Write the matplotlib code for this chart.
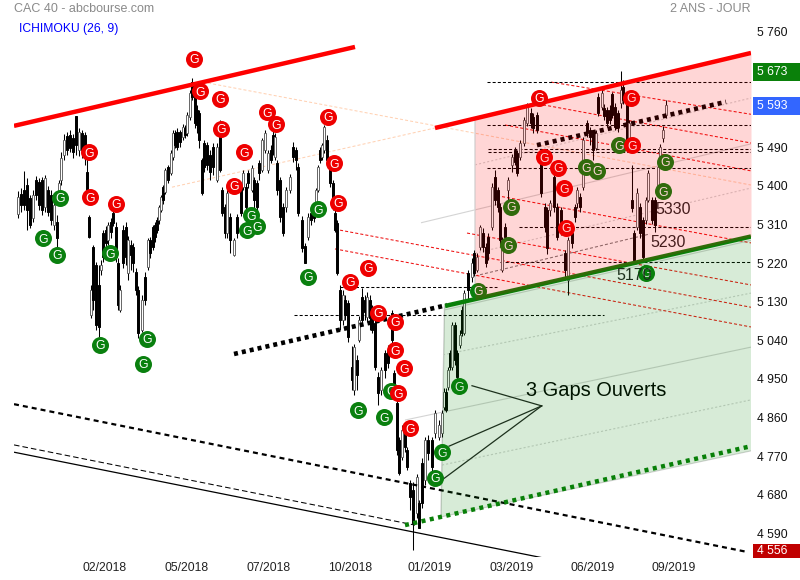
import numpy as np
import matplotlib
matplotlib.use("Agg")
import matplotlib.pyplot as plt
from matplotlib.patches import Rectangle

plt.rcParams["font.family"] = ["Liberation Sans", "DejaVu Sans"]
plt.rcParams["lines.scale_dashes"] = False

# time axis position of each candle (one candle every few sessions) and prices
candle_x = [18,21,24,27,30,33,36,39,42,45,48,51,
            54,57,59,61,64,67,70,73,76,79,82,85,
            87,89,91,93,96,99,101,103,106,108,111,113,
            116,118,120,123,126,128,131,133,136,138,142,145,
            148,150,153,155,157,159,161,163,165,168,171,173,
            175,177,180,183,185,187,190,192,195,197,199,202,
            204,207,210,213,217,220,222,225,227,230,234,237,
            241,243,246,248,252,254,257,259,262,265,268,271,
            273,275,277,280,283,286,290,293,296,298,302,305,
            308,311,314,316,318,320,322,324,327,330,333,335,
            337,340,343,345,348,352,354,357,359,362,365,367,
            370,372,375,378,381,385,388,392,394,397,399,402,
            405,407,410,413,417,419,422,425,428,432,435,439,
            442,444,446,448,450,452,455,457,460,462,464,468,
            472,474,477,480,483,486,488,492,495,498,500,502,
            505,508,512,515,517,520,524,527,531,533,537,541,
            545,547,550,554,557,561,565,568,572,575,577,580,
            583,587,590,593,596,598,602,604,607,610,612,615,
            618,621,623,627,629,632,634,637,640,643,646,648,
            652,655,658,660,663,666]
opens = [5334,5381,5390,5402,5372,5325,5414,5409,5414,5351,5390,5379,
         5309,5316,5374,5414,5472,5516,5519,5512,5563,5484,5523,5519,
         5432,5327,5099,5257,5216,5169,5204,5290,5297,5274,5316,5337,
         5304,5220,5111,5297,5304,5197,5262,5257,5199,5157,5064,5188,
         5211,5274,5304,5309,5320,5320,5344,5397,5386,5444,5430,5467,
         5523,5526,5526,5514,5535,5523,5561,5642,5607,5577,5570,5460,
         5500,5495,5472,5491,5414,5530,5390,5351,5290,5327,5239,5327,
         5397,5397,5397,5430,5390,5414,5407,5453,5437,5484,5437,5484,
         5519,5467,5453,5414,5351,5351,5390,5491,5484,5444,5320,5260,
         5281,5337,5339,5351,5390,5484,5467,5484,5507,5453,5407,5337,
         5313,5157,5087,5134,5127,4978,4924,4994,5041,5141,5134,5094,
         5134,5111,5080,4954,4924,5010,5017,5104,4964,4894,4807,4768,
         4824,4784,4707,4691,4637,4660,4754,4714,4807,4807,4824,4814,
         4824,4884,4919,4931,5010,4978,5076,5010,5029,5111,5057,5197,
         5188,5243,5204,5257,5290,5257,5281,5304,5421,5390,5351,5204,
         5304,5390,5449,5484,5477,5467,5500,5547,5570,5561,5565,5453,
         5351,5344,5344,5421,5351,5344,5243,5181,5290,5351,5360,5374,
         5397,5547,5530,5523,5488,5607,5584,5582,5577,5577,5614,5584,
         5570,5593,5631,5600,5500,5367,5290,5304,5351,5320,5320,5367,
         5367,5367,5390,5453,5512,5565]
closes = [5374,5355,5355,5344,5309,5379,5379,5355,5344,5418,5339,5320,
          5355,5278,5407,5465,5507,5484,5488,5479,5495,5526,5484,5472,
          5390,5281,5157,5134,5076,5071,5216,5234,5267,5309,5292,5313,
          5234,5122,5157,5220,5234,5274,5239,5220,5157,5057,5134,5134,
          5274,5243,5257,5281,5297,5351,5374,5367,5437,5414,5477,5523,
          5495,5491,5502,5537,5519,5565,5617,5607,5547,5542,5507,5383,
          5444,5449,5432,5444,5491,5437,5337,5290,5383,5274,5274,5290,
          5337,5430,5351,5407,5442,5367,5351,5430,5507,5523,5477,5460,
          5477,5514,5390,5327,5290,5390,5421,5467,5460,5337,5255,5220,
          5327,5320,5325,5390,5444,5460,5495,5537,5460,5407,5351,5297,
          5197,5087,5146,5099,5048,4947,5024,4959,5087,5087,5106,5141,
          5092,5064,4978,4917,4971,4971,4987,5041,4931,4784,4730,4831,
          4791,4744,4674,4614,4721,4602,4660,4807,4777,4744,4870,4842,
          4870,4919,4877,4971,4978,5076,4994,4954,5052,5057,5150,5157,
          5220,5197,5234,5304,5257,5220,5243,5397,5367,5351,5274,5274,
          5281,5414,5467,5456,5430,5500,5554,5584,5547,5535,5530,5383,
          5304,5255,5360,5351,5281,5297,5204,5274,5267,5327,5390,5351,
          5507,5523,5514,5484,5523,5570,5617,5563,5547,5554,5565,5537,
          5537,5624,5600,5491,5547,5348,5227,5383,5290,5234,5367,5430,
          5320,5309,5444,5491,5530,5589]
highs = [5388,5395,5435,5418,5379,5390,5423,5418,5421,5425,5400,5390,
         5367,5332,5414,5479,5521,5526,5530,5521,5563,5535,5530,5526,
         5484,5332,5169,5262,5223,5216,5227,5297,5306,5316,5325,5355,
         5316,5232,5169,5309,5316,5283,5274,5267,5208,5167,5146,5199,
         5278,5281,5309,5316,5327,5355,5379,5402,5442,5449,5484,5530,
         5530,5535,5530,5544,5542,5572,5624,5652,5617,5589,5577,5465,
         5507,5502,5484,5500,5500,5554,5397,5358,5390,5337,5278,5334,
         5404,5437,5407,5437,5449,5421,5414,5460,5512,5530,5484,5495,
         5530,5523,5460,5421,5360,5397,5428,5502,5491,5453,5330,5267,
         5337,5344,5344,5395,5449,5491,5500,5542,5519,5460,5414,5344,
         5320,5169,5157,5146,5134,5026,5031,5006,5097,5162,5146,5153,
         5146,5122,5092,4966,4978,5017,5029,5111,4971,4901,4814,4842,
         4831,4791,4714,4709,4728,4667,4765,4814,4819,4814,4877,4854,
         4877,4929,4929,4978,5017,5083,5083,5017,5064,5120,5157,5204,
         5232,5250,5243,5309,5302,5267,5290,5407,5437,5397,5360,5281,
         5313,5421,5474,5491,5484,5507,5561,5594,5582,5570,5572,5467,
         5360,5351,5367,5437,5360,5351,5250,5281,5297,5358,5397,5383,
         5514,5554,5537,5530,5530,5617,5624,5591,5584,5589,5619,5594,
         5577,5668,5647,5607,5554,5449,5297,5395,5360,5327,5374,5437,
         5374,5374,5453,5498,5540,5600]
lows = [5325,5339,5344,5297,5302,5316,5367,5344,5332,5339,5330,5309,
        5297,5250,5355,5402,5460,5472,5479,5465,5472,5470,5465,5449,
        5386,5278,5092,5111,5064,5048,5192,5223,5250,5262,5278,5306,
        5223,5111,5106,5208,5216,5181,5204,5199,5146,5045,5059,5122,
        5204,5232,5250,5269,5290,5311,5339,5358,5381,5407,5425,5460,
        5488,5484,5491,5507,5512,5516,5554,5600,5535,5523,5488,5379,
        5432,5437,5414,5425,5409,5432,5330,5278,5278,5243,5237,5278,
        5330,5390,5339,5395,5386,5348,5339,5414,5432,5477,5430,5453,
        5472,5460,5379,5316,5283,5339,5383,5456,5437,5330,5246,5220,
        5274,5309,5316,5344,5386,5453,5460,5477,5453,5397,5344,5292,
        5192,5064,5076,5087,5036,4924,4912,4924,5036,5076,5087,5083,
        5064,5057,4971,4889,4912,4952,4975,5029,4924,4772,4726,4761,
        4779,4737,4644,4551,4625,4602,4649,4702,4761,4733,4812,4807,
        4814,4877,4873,4924,4971,4971,4982,4947,5022,5050,5052,5134,
        5176,5190,5199,5250,5246,5211,5227,5297,5355,5339,5257,5199,
        5269,5367,5432,5449,5423,5460,5493,5540,5535,5523,5523,5374,
        5292,5241,5330,5339,5274,5285,5181,5146,5255,5316,5348,5339,
        5390,5514,5495,5460,5484,5563,5577,5554,5537,5544,5558,5530,
        5526,5582,5591,5484,5493,5339,5223,5297,5278,5227,5311,5362,
        5311,5292,5383,5444,5502,5558]

# gap markers
red_x = [194,200,220,221,244,267,276,328,334,89,90,116,234,338,350,368,378,395,
         395,404,398,410,539.5,631,632,544,558,564,566]
red_p = [5696,5621,5603,5533,5479,5572,5544,5561,5453,5479,5374,5358,5400,5361,
         5176,5209,5104,5083,5017,4975,4917,4835,5605,5605,5495,5467,5442,5395,5302]
green_x = [60,43,57,110,251,257,247,318,308,100,147,143,358,384,391,459,442,435,
           478,511,508,586,597,619,665,663,646]
green_p = [5372,5278,5239,5243,5332,5306,5297,5346,5188,5029,5043,4985,4877,4861,
           4922,4933,4779,4719,5155,5351,5262,5444,5435,5495,5456,5388,5197]

# channel and trend lines: x1, x2, price1, price2
thick_red = [(14, 355, 5540, 5724), (435, 751, 5535, 5710)]
thick_green = (445, 751, 5120, 5282)
thick_black_dots = [(234, 447, 5008, 5122), (537, 726, 5495, 5596)]
black_dash = (14, 748, 4891, 4546)
black_solid = (14, 542, 4779, 4533)
black_thin_dash = (14, 415, 4796, 4609)
green_dots = (405, 751, 4609, 4793)
red_dashes = [(551, 751, 5642, 5567), (543, 751, 5589, 5500), (505, 751, 5542, 5435),
              (502, 751, 5375, 5267), (467, 751, 5290, 5169), (335, 751, 5299, 5117),
              (335, 751, 5253, 5071)]
peach_dashes = [(203, 751, 5642, 5402), (172, 435, 5397, 5535)]
grey_solid = [(421, 751, 5314, 5498), (405, 751, 4854, 5024), (445, 751, 5111, 5273),
              (441, 751, 4628, 4782)]
grey_dots = [(475, 751, 5449, 5605), (475, 751, 5243, 5395), (443, 751, 5006, 5150),
             (442, 751, 4749, 4901)]
grey_dark_dash = (475, 650, 5190, 5288)

# horizontal levels: x1, x2, price
levels = [(487, 751, 5642), (487, 751, 5542), (488, 751, 5485), (488, 751, 5478),
          (487, 751, 5441), (519, 751, 5305), (500, 751, 5223), (340, 497, 5164),
          (294, 604, 5098)]

pink_x = [475, 751]
pink_top = [5557, 5710]
pink_bottom = [5134, 5282]
green_zone_x = [444.5, 751, 751, 441]
green_zone_p = [5120, 5282, 4782, 4628]

gap_hub = (541.7, 4887)
gap_x = [472, 449, 443]
gap_p = [4934, 4793, 4716]

y_ticks = [5760, 5490, 5400, 5310, 5220, 5130, 5040, 4950, 4860, 4770, 4680, 4590]
x_ticks = [105, 187, 268.5, 350, 430, 512, 593, 674]
x_labels = ["02/2018", "05/2018", "07/2018", "10/2018", "01/2019", "03/2019",
            "06/2019", "09/2019"]

W, H = 800, 580
fig = plt.figure(figsize=(8, 5.8), dpi=100, facecolor="white")
ax = fig.add_axes([14 / W, (H - 557) / H, 737 / W, 539 / H])
ax.set_xlim(14, 751)
ax.set_ylim(4534.6, 5791.5)
for s in ax.spines.values():
    s.set_visible(False)


def seg(line, **kw):
    ax.plot(line[:2], line[2:], solid_capstyle="butt", dash_capstyle="butt", **kw)


# candles
ax.vlines(candle_x, lows, highs, color="black", lw=0.75, zorder=2)
o = np.array(opens)
c = np.array(closes)
up = c >= o
ax.bar(candle_x, c - o, bottom=o, width=2.6,
       color=["white" if u else "black" for u in up],
       edgecolor=["#666666" if u else "black" for u in up], lw=0.7, zorder=2.1)

# light lines
for l in grey_solid:
    seg(l, color="#d4d4d4", lw=0.8, zorder=1)
for l in grey_dots:
    seg(l, color="#d4d4d4", lw=0.8, ls=(0, (1.5, 1.5)), zorder=1)
seg(grey_dark_dash, color="#777777", lw=0.75, ls=(0, (2.2, 1.5)), zorder=1)
for l in peach_dashes:
    seg(l, color="#ffd2b4", lw=0.75, ls=(0, (2.2, 1.5)), zorder=1)
for l in red_dashes:
    seg(l, color="#ee1111", lw=0.75, ls=(0, (2.2, 1.5)), zorder=1.5)
for x1, x2, p in levels:
    ax.plot([x1, x2], [p, p], color="black", lw=0.75, ls=(0, (2.2, 1.5)), zorder=1.5,
            dash_capstyle="butt")

# channels
seg(black_solid, color="black", lw=0.9, zorder=2.5)
seg(black_thin_dash, color="black", lw=0.75, ls=(0, (4, 2.2)), zorder=2.5)
seg(black_dash, color="black", lw=1.6, ls=(0, (3.6, 2.9)), zorder=2.5)
for l in thick_black_dots:
    seg(l, color="black", lw=3.3, ls=(0, (2.9, 2.9)), zorder=2.5)
seg(green_dots, color="#0a800a", lw=3.2, ls=(0, (2.9, 3.2)), zorder=2.5)
for l in thick_red:
    seg(l, color="#ff0000", lw=3.2, zorder=2.6)
seg(thick_green, color="#0a800a", lw=3.2, zorder=2.6)

# gap pointers
for x, p in zip(gap_x, gap_p):
    ax.plot([gap_hub[0], x], [gap_hub[1], p], color="#222222", lw=0.9, zorder=2.5)

# G markers
ax.scatter(green_x, green_p, s=150, color="#0a800f", lw=0, zorder=3)
ax.scatter(red_x, red_p, s=150, color="#ee0000", lw=0, zorder=3.2)
for x, p in zip(green_x, green_p):
    ax.text(x, p, "G", color="white", fontsize=8.8, ha="center", va="center_baseline",
            zorder=3.1)
for x, p in zip(red_x, red_p):
    ax.text(x, p, "G", color="white", fontsize=8.8, ha="center", va="center_baseline",
            zorder=3.3)

# annotations
ax.text(526, 4922, "3 Gaps Ouverts", fontsize=14.4, color="black", va="center", zorder=3.5)
ax.text(655, 5346, "5330", fontsize=11.5, color="#222222", va="center", zorder=3.5)
ax.text(650, 5267, "5230", fontsize=11.5, color="#222222", va="center", zorder=3.5)
ax.text(616, 5190, "5170", fontsize=11.5, color="#222222", va="center", zorder=3.5)

# zones are see-through and lie over everything else
ax.fill_between(pink_x, pink_bottom, pink_top, color="#ff0000", alpha=0.16, lw=0, zorder=4)
ax.fill(green_zone_x, green_zone_p, color="#008000", alpha=0.155, lw=0, zorder=4)
ax.plot([475, 475], [pink_bottom[0], pink_top[0]], color="#d8d8d8", lw=1.1, zorder=1)
ax.plot([444.5, 441], [green_zone_p[0], green_zone_p[3]], color="#cfcfcf", lw=1.0, zorder=1)

# axes text
ax.yaxis.tick_right()
ax.set_yticks(y_ticks, [f"{v // 1000} {v % 1000:03d}" for v in y_ticks])
ax.set_xticks(x_ticks, x_labels)
ax.tick_params(axis="y", length=0, pad=4.4, labelsize=8.7, labelcolor="#111111")
ax.tick_params(axis="x", length=0, pad=3.6, labelsize=8.7, labelcolor="#222222")

fig.text(14 / W, 1 - 9 / H, "CAC 40 - abcbourse.com", color="#8a8a8a", fontsize=9,
         va="center")
fig.text(19 / W, 1 - 29 / H, "ICHIMOKU (26, 9)", color="#0000ff", fontsize=8.7, va="center")
fig.text(751 / W, 1 - 9 / H, "2 ANS - JOUR", color="#8a8a8a", fontsize=9, ha="right",
         va="center")

# last value boxes at the right
for txt, top, bottom, col in [("5 673", 63, 81, "#0a800a"),
                              ("5 593", 97, 115, "#3366ff"),
                              ("4 556", 544, 558, "#c00000")]:
    fig.add_artist(Rectangle((753 / W, 1 - bottom / H), 47 / W, (bottom - top) / H,
                             transform=fig.transFigure, color=col, lw=0))
    fig.text(757 / W, 1 - (top + bottom) / 2 / H, txt, color="white", fontsize=8.7,
             va="center")

fig.savefig("out.png", dpi=100)
